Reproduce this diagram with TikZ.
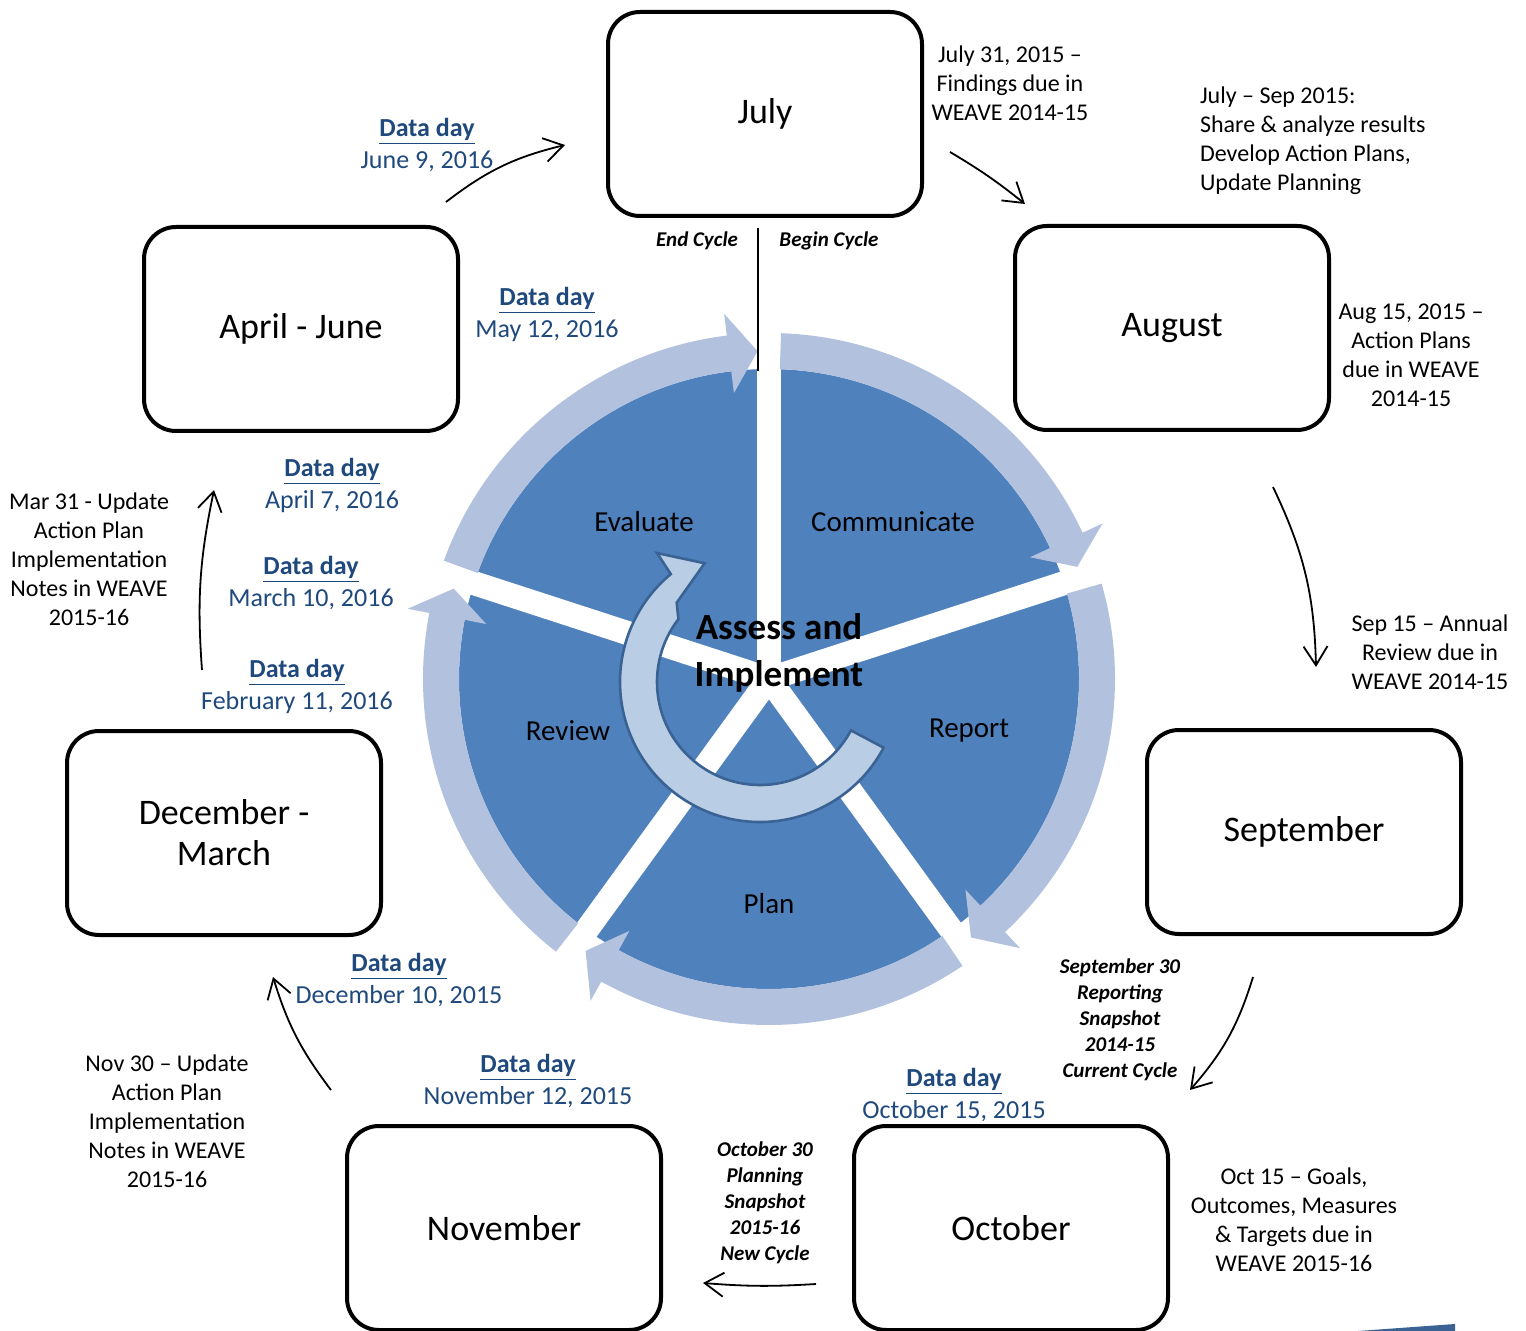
\documentclass[tikz,border=0pt]{standalone}
\usepackage{fontspec}
\setmainfont{Carlito}
\usepackage{tikz}
\usetikzlibrary{shapes, arrows.meta}
\definecolor{pieblue}{HTML}{4F81BD}
\definecolor{ringblue}{HTML}{B1C1DE}
\definecolor{hubfill}{HTML}{B9CDE5}
\definecolor{hubline}{HTML}{3A6394}
\definecolor{datablue}{HTML}{1F497D}
\tikzstyle{month} = [rectangle, rounded corners=16pt, minimum width=157pt, minimum height=102pt, text centered, draw=black, line width=2pt, font=\fontsize{18}{20.5}\selectfont]
\tikzstyle{note} = [align=center, font=\fontsize{12}{14.5}\selectfont]
\tikzstyle{snapshot} = [align=center, font=\fontsize{10.5}{13}\selectfont\bfseries\itshape]
\tikzstyle{dataday} = [align=center, text=datablue, font=\fontsize{13}{16}\selectfont]
\tikzstyle{phase} = [font=\fontsize{14.5}{17}\selectfont]
\tikzstyle{ring} = [fill=ringblue]
\tikzstyle{gap} = [draw=white, line width=12pt]
\tikzstyle{arrow} = [line width=0.9pt, -{Straight Barb[length=9.5pt,width=12pt]}]
\newcommand{\dday}[1]{\underline{\textbf{Data day}}\\#1}

\begin{document}
\begin{tikzpicture}[x=0.5pt, y=-0.5pt, align=center]
    \useasboundingbox (0,0) rectangle (1526,1331);

    % the pie with its five phases
    \begin{scope}[shift={(769,679)}, yscale=-1]
        \fill[pieblue] (0,0) circle (310);
        \draw[gap] (0,0) -- (90:330);
        \draw[gap] (0,0) -- (18:330);
        \draw[gap] (0,0) -- (-54:330);
        \draw[gap] (0,0) -- (-126:330);
        \draw[gap] (0,0) -- (-198:330);
        % arrows round the pie
        \fill[ring] (88:310) -- (88:346) arc[start angle=88, end angle=25, radius=346] -- (25:368) -- (20:328) -- (25:288) -- (25:310) arc[start angle=25, end angle=88, radius=310] -- cycle;
        \fill[ring] (16:310) -- (16:346) arc[start angle=16, end angle=-47, radius=346] -- (-47:368) -- (-52:328) -- (-47:288) -- (-47:310) arc[start angle=-47, end angle=16, radius=310] -- cycle;
        \fill[ring] (-56:310) -- (-56:346) arc[start angle=-56, end angle=-119, radius=346] -- (-119:368) -- (-124:328) -- (-119:288) -- (-119:310) arc[start angle=-119, end angle=-56, radius=310] -- cycle;
        \fill[ring] (-128:310) -- (-128:346) arc[start angle=-128, end angle=-191, radius=346] -- (-191:368) -- (-196:328) -- (-191:288) -- (-191:310) arc[start angle=-191, end angle=-128, radius=310] -- cycle;
        \fill[ring] (-200:310) -- (-200:346) arc[start angle=-200, end angle=-263, radius=346] -- (-263:368) -- (-268:328) -- (-263:288) -- (-263:310) arc[start angle=-263, end angle=-200, radius=310] -- cycle;
    \end{scope}

    % end / begin of the cycle
    \coordinate (cycletop) at (758,228);
    \coordinate (cyclebottom) at (758,371);
    \draw[line width=1pt] (cycletop) -- (cyclebottom);
    \node (endcycle) [snapshot] at (697,241) {End Cycle};
    \node (begincycle) [snapshot] at (829,241) {Begin Cycle};

    % circular arrow in the middle
    \begin{scope}[shift={(760,682)}, yscale=-1]
        \filldraw[fill=hubfill, draw=hubline, line width=1.3pt] (-28:103) -- (-28:140) arc[start angle=-28, end angle=-230.4, radius=140] -- (-231.4:165) -- (-245:131) -- (-223.6:115) -- (-217.6:103) arc[start angle=-217.6, end angle=-28, radius=103] -- cycle;
    \end{scope}

    \node (hub) [font=\fontsize{18.5}{23.5}\selectfont\bfseries] at (779,653) {Assess and\\Implement};
    \node (evaluate) [phase] at (644,522) {Evaluate};
    \node (communicate) [phase] at (893,522) {Communicate};
    \node (report) [phase] at (969,731) {Report};
    \node (plan) [phase] at (769,904) {Plan};
    \node (review) [phase] at (568,731) {Review};

    % months
    \node (july) [month] at (765,114) {July};
    \node (august) [month] at (1172,328) {August};
    \node (aprjun) [month] at (301,329) {April - June};
    \node (september) [month] at (1304,832) {September};
    \node (decmar) [month, align=center] at (224,833) {December -\\March};
    \node (october) [month] at (1011,1228) {October};
    \node (november) [month] at (504,1228) {November};

    % deadlines
    \node (julnote) [note] at (1010,83) {July 31, 2015 –\\Findings due in\\WEAVE 2014-15};
    \node (julsep) [note, align=left, anchor=west] at (1193,141) {July – Sep 2015:\\Share \& analyze results\\Develop Action Plans,\\Update Planning};
    \node (augnote) [note] at (1411,355) {Aug 15, 2015 –\\Action Plans\\due in WEAVE\\2014-15};
    \node (sepnote) [note] at (1430,652) {Sep 15 – Annual\\Review due in\\WEAVE 2014-15};
    \node (octnote) [note] at (1294,1220) {Oct 15 – Goals,\\Outcomes, Measures\\\& Targets due in\\WEAVE 2015-16};
    \node (novnote) [note] at (167,1121) {Nov 30 – Update\\Action Plan\\Implementation\\Notes in WEAVE\\2015-16};
    \node (marnote) [note] at (89,559) {Mar 31 - Update\\Action Plan\\Implementation\\Notes in WEAVE\\2015-16};
    \node (sepsnap) [snapshot] at (1120,1020) {September 30\\Reporting\\Snapshot\\2014-15\\Current Cycle};
    \node (octsnap) [snapshot] at (765,1203) {October 30\\Planning\\Snapshot\\2015-16\\New Cycle};

    % data days
    \node (junday) [dataday] at (427,145) {\dday{June 9, 2016}};
    \node (mayday) [dataday] at (547,314) {\dday{May 12, 2016}};
    \node (aprday) [dataday] at (332,485) {\dday{April 7, 2016}};
    \node (marday) [dataday] at (311,583) {\dday{March 10, 2016}};
    \node (febday) [dataday] at (297,686) {\dday{February 11, 2016}};
    \node (decday) [dataday] at (399,980) {\dday{December 10, 2015}};
    \node (novday) [dataday] at (528,1081) {\dday{November 12, 2015}};
    \node (octday) [dataday] at (954,1095) {\dday{October 15, 2015}};

    % month to month arrows
    \coordinate (junfrom) at (446,202);
    \coordinate (junto) at (565,145);
    \coordinate (julfrom) at (950,152);
    \coordinate (julto) at (1025,204);
    \coordinate (augfrom) at (1273,487);
    \coordinate (augto) at (1316,667);
    \coordinate (sepfrom) at (1253,977);
    \coordinate (septo) at (1190,1090);
    \coordinate (octfrom) at (816,1284);
    \coordinate (octto) at (703,1283);
    \coordinate (novfrom) at (331,1090);
    \coordinate (novto) at (273,977);
    \coordinate (decfrom) at (202,670);
    \coordinate (decto) at (214,490);
    \draw [arrow] (junfrom) to[bend left=12] (junto);
    \draw [arrow] (julfrom) to[bend left=4] (julto);
    \draw [arrow] (augfrom) to[bend left=12] (augto);
    \draw [arrow] (sepfrom) to[bend left=12] (septo);
    \draw [arrow] (octfrom) to[bend left=4] (octto);
    \draw [arrow] (novfrom) to[bend left=10] (novto);
    \draw [arrow] (decfrom) to[bend left=8] (decto);

    \fill[hubline] (1358,1331) -- (1455,1324) -- (1455,1331) -- cycle;
\end{tikzpicture}
\end{document}
